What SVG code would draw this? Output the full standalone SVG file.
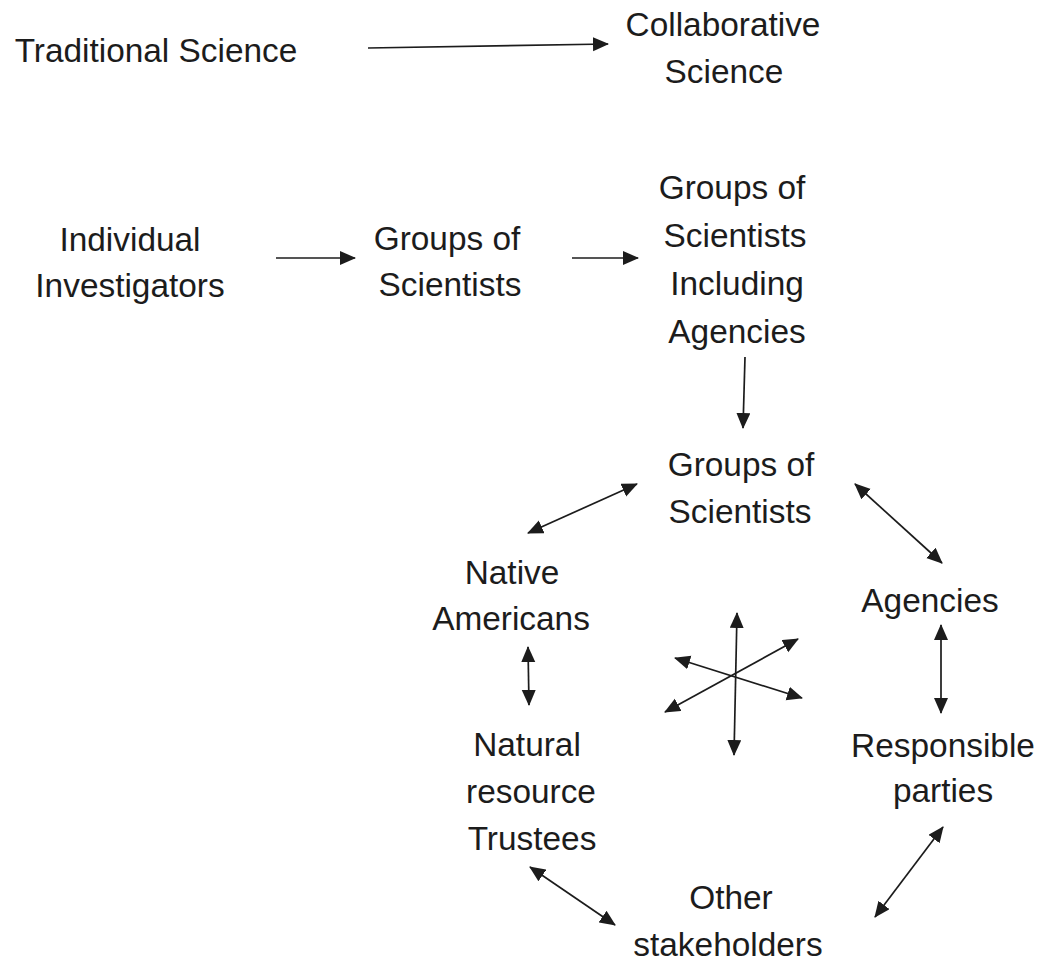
<svg xmlns="http://www.w3.org/2000/svg" width="1044" height="965" viewBox="0 0 1044 965">
<defs>
<style>
text{font-family:"Liberation Sans",Arial,sans-serif;font-size:33.4px;fill:#1c1c1c;text-anchor:middle}
.c{stroke:#1c1c1c;stroke-width:1.7;fill:none;marker-end:url(#ah)}
.d{marker-start:url(#ah)}
</style>
<marker id="ah" markerUnits="userSpaceOnUse" markerWidth="17" markerHeight="15" refX="15" refY="7" orient="auto-start-reverse">
<path d="M0,0 L16,7 L0,14 z" fill="#1c1c1c"/>
</marker>
</defs>
<rect width="1044" height="965" fill="#fff"/>
<g id="traditional"><text x="156" y="62">Traditional Science</text></g>
<g id="collaborative"><text x="723" y="36">Collaborative</text><text x="724" y="83">Science</text></g>
<g id="individual"><text x="130" y="251">Individual</text><text x="130" y="297">Investigators</text></g>
<g id="groups1"><text x="447" y="250">Groups of</text><text x="450" y="296">Scientists</text></g>
<g id="groups2"><text x="732" y="199">Groups of</text><text x="735" y="247">Scientists</text><text x="737" y="295">Including</text><text x="737" y="343">Agencies</text></g>
<g id="groups3"><text x="741" y="476">Groups of</text><text x="740" y="523">Scientists</text></g>
<g id="native"><text x="512" y="584">Native</text><text x="511" y="630">Americans</text></g>
<g id="agencies"><text x="930" y="612">Agencies</text></g>
<g id="trustees"><text x="527" y="756">Natural</text><text x="531" y="803">resource</text><text x="532" y="850">Trustees</text></g>
<g id="responsible"><text x="943" y="757">Responsible</text><text x="943" y="802">parties</text></g>
<g id="other"><text x="731" y="909">Other</text><text x="728" y="956">stakeholders</text></g>
<g id="connectors">
<line class="c" x1="368" y1="48" x2="608" y2="44"/>
<line class="c" x1="276" y1="258" x2="355" y2="258"/>
<line class="c" x1="572" y1="258" x2="638" y2="258"/>
<line class="c" x1="745" y1="357" x2="743" y2="428"/>
<line class="c d" x1="528" y1="533" x2="637" y2="484"/>
<line class="c d" x1="855" y1="484" x2="942" y2="563"/>
<line class="c d" x1="528" y1="647" x2="529" y2="705"/>
<line class="c d" x1="941" y1="625" x2="941" y2="713"/>
<line class="c d" x1="530" y1="867" x2="615" y2="925"/>
<line class="c d" x1="943" y1="827" x2="875" y2="917"/>
<line class="c d" x1="737" y1="613" x2="734" y2="755"/>
<line class="c d" x1="675" y1="658" x2="802" y2="698"/>
<line class="c d" x1="665" y1="712" x2="798" y2="639"/>
</g>
</svg>
